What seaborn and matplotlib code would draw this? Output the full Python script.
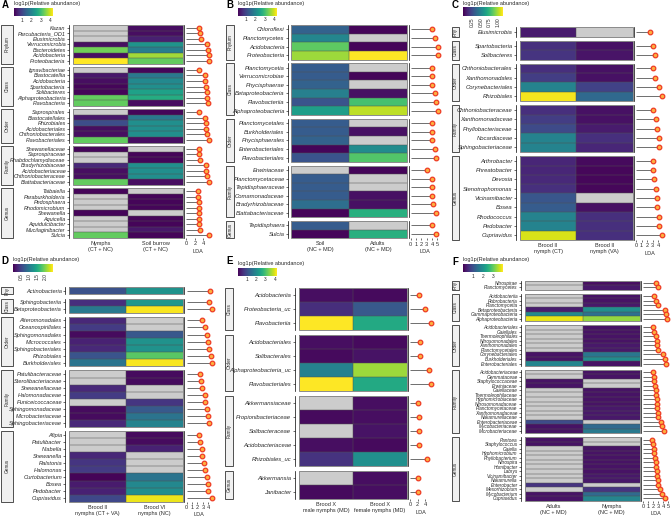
import numpy as np
import pandas as pd
import matplotlib
matplotlib.use("Agg")
import matplotlib.pyplot as plt
import seaborn as sns
from matplotlib.patches import Rectangle
from matplotlib.cm import ScalarMappable
from matplotlib.colors import Normalize

N = np.nan

# ---------------- Panel A ----------------
A_groups = ["Nymphs\n(CT + NC)", "Soil burrow\n(CT + NC)"]
A_ranks = ["Phylum"] * 7 + ["Class"] * 7 + ["Order"] * 6 + ["Family"] * 7 + ["Genus"] * 9
A_taxa = ["Kazan", "Parcubacteria_OD1", "Elusimicrobia", "Verrucomicrobia", "Bacteroidetes", "Acidobacteria", "Proteobacteria",
          "Ignavibacteriae", "Blastocatellia", "Acidobacteria", "Spartobacteria", "Solibacteres", "Alphaproteobacteria", "Flavobacteria",
          "Saprospirales", "Blastocatellales", "Rhizobiales", "Acidobacteriales", "Chthoniobacterales", "Flavobacteriales",
          "Shewanellaceae", "Saprospiraceae", "Rhabdochlamydiaceae", "Bradyrhizobiaceae", "Acidobacteriaceae", "Chthoniobacteraceae", "Blattabacteriaceae",
          "Taibaiella", "Paraburkholderia", "Pedosphaera", "Rhodomicrobium", "Shewanella", "Aquicella", "Aquidulcibacter", "Mucilaginibacter", "Sulcia"]
A_col1 = [N, N, N, 0.3, 3.4, 0.3, 4.3, N, 0.4, 0.3, 0.2, 0.2, 3.3, 3.3, N, 0.4, 1.1, 0.3, 0.3, 3.3,
          0.2, N, N, 0.6, 0.3, 0.3, 3.3, 0.2, N, N, N, 0.2, N, N, N, 3.3]
A_col2 = [0.3, 0.3, 0.5, 2.3, 1.9, 3.7, 3.3, 0.2, 1.8, 2.1, 2.2, 2.5, 2.7, 0.3, 0.2, 1.8, 2.2, 2.2, 2.2, 0.3,
          N, 0.2, 0.2, 2.2, 2.2, 2.2, 0.3, N, 0.2, 0.2, 0.2, N, 0.2, 0.2, 0.4, 0.2]
A_lda = [3.0, 3.2, 3.6, 4.9, 5.2, 5.3, 5.4, 3.1, 4.4, 4.5, 4.7, 4.8, 5.0, 5.2, 3.0, 4.4, 4.7, 4.7, 4.8, 5.3,
         3.0, 3.0, 3.2, 4.6, 4.7, 4.8, 5.3, 2.7, 2.8, 2.9, 2.9, 2.9, 3.0, 3.1, 3.3, 5.3]

# ---------------- Panel B ----------------
B_groups = ["Soil\n(NC + MD)", "Adults\n(NC + MD)"]
B_ranks = ["Phylum"] * 4 + ["Class"] * 6 + ["Order"] * 5 + ["Family"] * 6 + ["Genus"] * 2
B_taxa = ["Chloroflexi", "Planctomycetes", "Acidobacteria", "Proteobacteria",
          "Planctomycetia", "Verrucomicrobiae", "Phycisphaerae", "Betaproteobacteria", "Flavobacteriia", "Alphaproteobacteria",
          "Planctomycetales", "Burkholderiales", "Phycisphaerales", "Enterobacteriales", "Flavobacteriales",
          "Erwiniaceae", "Planctomycetaceae", "Tepidisphaeraceae", "Comamonadaceae", "Bradyrhizobiaceae", "Blattabacteriaceae",
          "Tepidisphaera", "Sulcia"]
B_col1 = [1.4, 2.0, 3.2, 3.6, 1.3, 1.3, 1.4, 1.9, 1.2, 2.4, 1.3, 1.3, 1.4, 0.2, 1.2, N, 1.3, 1.3, 1.3, 1.6, 0.2, 1.3, 0.2]
B_col2 = [0.2, N, 0.2, 4.2, N, 0.2, N, 0.3, 3.0, 3.8, N, 0.3, N, 2.1, 3.1, 0.2, N, N, 0.3, 0.3, 2.7, N, 2.7]
B_lda = [4.05, 4.55, 5.05, 5.2, 4.05, 4.05, 4.05, 4.55, 4.7, 5.05, 4.05, 4.05, 4.05, 4.55, 4.85,
         3.1, 4.05, 4.05, 4.05, 4.2, 4.7, 3.95, 4.7]

# ---------------- Panel C ----------------
C_groups = ["Brood II\nnymph (CT)", "Brood II\nnymph (VA)"]
C_ranks = ["Phy"] * 1 + ["Class"] * 2 + ["Order"] * 4 + ["Family"] * 5 + ["Genus"] * 9
C_taxa = ["Elusimicrobia", "Spartobacteria", "Solibacteres",
          "Chthoniobacterales", "Xanthomonadales", "Corynebacteriales", "Rhizobiales",
          "Chthoniobacteraceae", "Xanthomonadaceae", "Phyllobacteriaceae", "Nocardiaceae", "Sphingobacteriaceae",
          "Arthrobacter", "Phreatobacter", "Devosia", "Stenotrophomonas", "Vicinamibacter", "Bosea", "Rhodococcus", "Pedobacter", "Cupriavidus"]
C_col1 = [0.08, 0.15, 0.17, 0.15, 0.2, 0.5, 1.1, 0.15, 0.2, 0.25, 0.5, 0.5, 0.12, 0.12, 0.13, 0.15, 0.3, 0.32, 0.5, 0.5, 1.05]
C_col2 = [N, 0.05, 0.06, 0.05, 0.05, 0.22, 0.38, 0.05, 0.05, 0.08, 0.15, 0.12, 0.03, 0.02, 0.02, 0.02, N, 0.05, 0.15, 0.15, 0.15]
C_lda = [2.5, 3.1, 3.4, 3.1, 3.4, 4.1, 4.6, 3.1, 3.5, 3.7, 4.1, 4.1, 3.0, 3.1, 3.2, 3.5, 3.8, 3.8, 4.1, 4.1, 4.6]

# ---------------- Panel D ----------------
D_groups = ["Brood II\nnymphs (CT + VA)", "Brood VI\nnymphs (NC)"]
D_ranks = ["Phy"] * 1 + ["Class"] * 2 + ["Order"] * 7 + ["Family"] * 8 + ["Genus"] * 10
D_taxa = ["Actinobacteria", "Sphingobacteriia", "Betaproteobacteria",
          "Alteromonadales", "Oceanospirillales", "Sphingomonadales", "Micrococcales", "Sphingobacteriales", "Rhizobiales", "Burkholderiales",
          "Patulibacteraceae", "Sterolibacteriaceae", "Shewanellaceae", "Halomonadaceae", "Puniceicoccaceae", "Sphingomonadaceae", "Microbacteriaceae", "Sphingobacteriaceae",
          "Afipia", "Patulibacter", "Niabella", "Shewanella", "Ralstonia", "Halomonas", "Curtobacterium", "Bosea", "Pedobacter", "Cupriavidus"]
D_col1 = [0.63, 0.35, 1.0, 0.3, 0.45, 0.1, 0.25, 0.3, 0.65, 0.95, N, N, 0.3, 0.45, N, 0.1, 0.1, 0.3,
          N, N, N, 0.3, 0.4, 0.45, 0.05, 0.2, 0.25, 0.55]
D_col2 = [1.25, 1.3, 2.4, N, N, 0.68, 1.25, 1.25, 1.8, 2.4, 0.1, 0.1, N, N, 0.4, 0.7, 0.95, 1.1,
          0.1, 0.1, 0.25, N, N, N, 0.95, 1.15, 1.2, 2.35]
D_lda = [4.25, 4.1, 4.8, 2.9, 3.4, 3.75, 4.0, 4.1, 4.45, 4.8, 2.4, 2.7, 2.9, 3.4, 3.4, 3.7, 3.9, 4.1,
         2.25, 2.4, 2.9, 2.9, 3.3, 3.4, 3.85, 4.0, 4.0, 4.75]

# ---------------- Panel E ----------------
E_groups = ["Brood X\nmale nymphs (MD)", "Brood X\nfemale nymphs (MD)"]
E_ranks = ["Class"] * 3 + ["Order"] * 4 + ["Family"] * 5 + ["Genus"] * 2
E_taxa = ["Acidobacteriia", "Proteobacteria_uc", "Flavobacteriia",
          "Acidobacteriales", "Solibacterales", "Alphaproteobacteria_uc", "Flavobacteriales",
          "Akkermansiaceae", "Propionibacteriaceae", "Solibacteraceae", "Acidobacteriaceae", "Rhizobiales_uc",
          "Akkermansia", "Janibacter"]
E_col1 = [0.2, 0.6, 4.2, 0.2, 0.15, 1.85, 4.2, N, 0.15, N, 0.2, 0.65, N, 0.15]
E_col2 = [0.15, 1.2, 2.55, 0.15, 0.25, 3.6, 2.55, 0.2, 0.2, 0.25, 0.15, 2.1, 0.2, 0.2]
E_lda = [2.45, 3.9, 5.5, 2.6, 2.6, 5.1, 5.45, 2.2, 2.3, 2.4, 2.4, 4.35, 2.2, 2.2]

# ---------------- Panel F ----------------
F_groups = ["Adults\n(NC + MD)", "Nymphs\n(NC + MD)"]
F_ranks = ["Phy"] * 2 + ["Class"] * 6 + ["Order"] * 9 + ["Family"] * 14 + ["Genus"] * 14
F_taxa = ["Nitrospirae", "Planctomycetes",
          "Acidobacteriia", "Rubrobacteria", "Planctomycetia", "Betaproteobacteria", "Gammaproteobacteria", "Alphaproteobacteria",
          "Acidobacteriales", "Gaiellales", "Thermoleophilales", "Nitrosomonadales", "Xanthomonadales", "Planctomycetales",
          "Corynebacteriales", "Burkholderiales", "Enterobacteriales",
          "Acidobacteriaceae", "Gemmataceae", "Staphylococcaceae", "Erwiniaceae", "Gaiellaceae", "Thermoleophilaceae",
          "Hyphomicrobiaceae", "Nitrosomonadaceae", "Planctomycetaceae", "Xanthomonadaceae", "Nakamurellaceae",
          "Enterobacteriaceae", "Mycobacteriaceae", "Microbacteriaceae",
          "Pantoea", "Staphylococcus", "Gaiella", "Hyphomicrobium", "Phyllobacterium", "Nitrospira", "Humibacter",
          "Labrys", "Vicinamibacter", "Nakamurella", "Enterobacter", "Mesorhizobium", "Mycobacterium", "Cupriavidus"]
F_col1 = [N, N, N, N, N, 0.3, 1.85, 3.8, N, N, N, N, N, N, 0.2, 0.2, 1.8,
          N, N, 0.2, 0.2, N, N, N, N, N, N, N, 0.9, 0.2, 0.2,
          0.2, 0.2, N, N, N, N, N, N, N, N, 0.6, N, 0.2, 0.2]
F_col2 = [0.15, 0.25, 0.2, 0.2, 0.25, 1.95, 1.45, 3.3, 0.2, 0.2, 0.2, 0.2, 0.25, 0.25, 1.55, 1.9, 0.2,
          0.2, 0.2, N, N, 0.2, 0.2, 0.2, 0.2, 0.25, 0.25, 0.25, N, 1.35, 1.6,
          N, N, 0.2, 0.2, 0.2, 0.2, 0.2, 0.2, 0.25, 0.25, N, 0.6, 1.35, 1.8]
F_lda = [2.5, 3.0, 2.15, 2.5, 3.0, 4.35, 4.55, 4.8, 2.0, 2.2, 2.5, 2.7, 2.8, 2.9, 3.9, 4.3, 4.5,
         2.0, 2.1, 2.2, 2.3, 2.5, 2.5, 2.7, 2.7, 2.8, 2.9, 3.0, 3.6, 3.8, 4.2,
         1.8, 2.0, 2.1, 2.2, 2.3, 2.5, 2.5, 2.7, 2.7, 2.9, 3.0, 3.3, 3.7, 4.3]

# ---------------- figure ----------------
W, H = 671, 517
sns.set_theme(style="white")
plt.rcParams["font.family"] = ["Liberation Sans", "DejaVu Sans"]

fig = plt.figure(figsize=(W / 100, H / 100), dpi=100)
ov = fig.add_axes([0, 0, 1, 1])
ov.set_xlim(0, W)
ov.set_ylim(H, 0)
ov.axis("off")

TXT = "#2b2b2b"


def rect(x0, y0, x1, y1):
    return [x0 / W, 1 - y1 / H, (x1 - x0) / W, (y1 - y0) / H]


def draw_panel(letter, taxa, ranks, col1, col2, lda, groups, L):
    df = pd.DataFrame({"taxon": taxa, "rank": ranks, "g1": col1, "g2": col2, "LDA": lda})
    order = list(dict.fromkeys(ranks))
    n = len(taxa)
    rh = (L["bot"] - L["top"] - L["gap"] * (len(order) - 1)) / n
    y = L["top"]
    for k, r in enumerate(order):
        sub = df[df["rank"] == r].reset_index(drop=True)
        m = len(sub)
        y0, y1 = y, y + m * rh
        last = k == len(order) - 1
        # ---- heatmap ----
        ax = fig.add_axes(rect(L["hx0"], y0, L["hx1"], y1))
        mat = sub.set_index("taxon")[["g1", "g2"]]
        sns.heatmap(mat, ax=ax, cmap="viridis", vmin=L["vmin"], vmax=L["vmax"], cbar=False,
                    xticklabels=False, yticklabels=True, linewidths=0)
        ax.set_facecolor("#CCCCCC")
        ax.hlines(np.arange(1, m), 0, 2, color="#505050", lw=0.35)
        ax.vlines(1, 0, m, color="#505050", lw=0.35)
        ax.set_xlabel("")
        ax.set_ylabel("")
        # spine position first (it resets the ticks), then ticks/labels
        ax.spines["left"].set_visible(True)
        ax.spines["left"].set_position(("outward", L["axgap"] * 0.72))
        ax.spines["left"].set_color("black")
        ax.spines["left"].set_linewidth(0.5)
        ax.tick_params(axis="y", left=True, length=1.6, width=0.4, pad=0.8, color="black",
                       labelsize=L["fs"], labelcolor=TXT)
        ax.set_yticks(np.arange(m) + 0.5)
        ax.set_yticklabels(sub["taxon"], fontsize=L["fs"], style="italic", color=TXT, rotation=0)
        ax.add_patch(Rectangle((0, 0), 1, 1, transform=ax.transAxes, fill=False,
                               ec="#8a8a8a", lw=0.7, clip_on=False, zorder=5))
        if last:
            ax.tick_params(axis="x", bottom=True, length=0, pad=2.2, labelsize=L["xfs"])
            ax.set_xticks([0.5, 1.5])
            ax.set_xticklabels(groups, fontsize=L["xfs"], color=TXT, rotation=0, linespacing=1.25)
        else:
            ax.set_xticks([])
        # ---- LDA lollipop ----
        lx = fig.add_axes(rect(L["lx0"], y0, L["lx1"], y1))
        yy = np.arange(m) + 0.5
        lx.hlines(yy, 0, sub["LDA"], color="#6e6e6e", lw=0.7, zorder=1)
        sns.scatterplot(x=sub["LDA"].values, y=yy, ax=lx, s=11, color="#FDB03F", edgecolor="#EE3B24",
                        linewidth=0.9, zorder=3, legend=False, clip_on=False)
        lx.set_xlim(L["lmin"], L["lmax"])
        lx.set_ylim(m, 0)
        lx.patch.set_alpha(0)
        for s in ["top", "right", "bottom"]:
            lx.spines[s].set_visible(False)
        lx.spines["left"].set_color("black")
        lx.spines["left"].set_linewidth(0.5)
        lx.set_yticks([])
        lx.set_ylabel("")
        if last:
            lx.tick_params(axis="x", bottom=True, length=1.5, width=0.4, pad=1, color="black",
                           labelsize=L["xfs"], labelcolor=TXT)
            lx.set_xticks(L["lticks"])
            lx.set_xticklabels([str(t) for t in L["lticks"]], fontsize=L["xfs"], color=TXT)
            lx.set_xlabel("LDA", fontsize=L["xfs"], color=TXT, labelpad=1.5)
        else:
            lx.set_xticks([])
        # ---- strip ----
        ov.add_patch(Rectangle((L["sx0"], y0), L["sx1"] - L["sx0"], y1 - y0, fc="#F0F0F0", ec="#333333", lw=0.6))
        ov.text((L["sx0"] + L["sx1"]) / 2, (y0 + y1) / 2, r, rotation=90, ha="center", va="center",
                fontsize=3.4, color=TXT)
        y = y1 + L["gap"]
    # ---- colorbar ----
    cax = fig.add_axes(rect(L["cx0"], L["cy0"], L["cx1"], L["cy1"]))
    sm = ScalarMappable(norm=Normalize(L["vmin"], L["vmax"]), cmap="viridis")
    cb = fig.colorbar(sm, cax=cax, orientation="horizontal")
    cb.outline.set_visible(False)
    cb.ax.tick_params(axis="x", length=1.8, width=0.4, direction="in", color="white",
                      labelsize=3.5, labelcolor=TXT, pad=1.2, labelrotation=L["crot"])
    cb.set_ticks(L["cticks"])
    cb.set_ticklabels(L["ctl"])
    ov.text(L["cx0"], L["ty"], "log1p(Relative abundance)", fontsize=4.0, color=TXT, va="center", ha="left")
    ov.text(L["lx"], L["ly"], letter, fontsize=7, fontweight="bold", color="black", va="center", ha="left")


LA = dict(top=25, bot=238, gap=3.6, hx0=73, hx1=183, axgap=4, lx0=184, lx1=212, lmin=-0.55, lmax=6.1,
          lticks=[0, 2, 4], sx0=1, sx1=13, fs=4.0, xfs=4.0, vmin=0.14, vmax=4.3,
          cx0=14, cx1=53, cy0=8.3, cy1=16, cticks=[1, 2, 3, 4], ctl=["1", "2", "3", "4"], crot=0,
          ty=3.5, lx=1.5, ly=5)
LB = dict(top=25, bot=238.3, gap=3.7, hx0=291, hx1=407, axgap=3, lx0=409, lx1=441, lmin=-0.32, lmax=5.7,
          lticks=[0, 1, 2, 3, 4, 5], sx0=225.7, sx1=234, fs=4.2, xfs=4.0, vmin=0.14, vmax=4.2,
          cx0=237.7, cx1=276.7, cy0=8, cy1=15.7, cticks=[1, 2, 3, 4], ctl=["1", "2", "3", "4"], crot=0,
          ty=3.5, lx=226, ly=5)
LC = dict(top=27.3, bot=240, gap=4.3, hx0=520, hx1=632.7, axgap=4, lx0=634.3, lx1=665, lmin=-0.3, lmax=5.2,
          lticks=[0, 1, 2, 3, 4], sx0=451.7, sx1=459, fs=4.2, xfs=4.0, vmin=0.0, vmax=1.12,
          cx0=463.3, cx1=502.7, cy0=7.3, cy1=15.7, cticks=[0.25, 0.5, 0.75, 1.0],
          ctl=["0.25", "0.50", "0.75", "1.00"], crot=90, ty=3.5, lx=452, ly=5)
LD = dict(top=287.3, bot=501.7, gap=4.2, hx0=69.3, hx1=182.7, axgap=4, lx0=184.3, lx1=213, lmin=-0.45, lmax=4.9,
          lticks=[0, 1, 2, 3, 4], sx0=1, sx1=13, fs=4.1, xfs=4.0, vmin=0.03, vmax=2.42,
          cx0=13.3, cx1=52.7, cy0=264.3, cy1=271.7, cticks=[0.5, 1.0, 1.5, 2.0],
          ctl=["0.5", "1.0", "1.5", "2.0"], crot=90, ty=259.5, lx=1.5, ly=261)
LE = dict(top=287.7, bot=499, gap=5.3, hx0=299, hx1=406.7, axgap=4.5, lx0=408.3, lx1=434, lmin=-0.44, lmax=6.3,
          lticks=[0, 2, 4], sx0=225, sx1=233, fs=4.2, xfs=4.0, vmin=0.05, vmax=4.2,
          cx0=237.7, cx1=276.7, cy0=267.7, cy1=275.7, cticks=[1, 2, 3, 4], ctl=["1", "2", "3", "4"], crot=0,
          ty=263.3, lx=226, ly=261)
LF = dict(top=280.7, bot=500.7, gap=4, hx0=525, hx1=640, axgap=4, lx0=641, lx1=670, lmin=-0.46, lmax=5.34,
          lticks=[0, 1, 2, 3, 4, 5], sx0=451.7, sx1=459, fs=3.4, xfs=4.0, vmin=0.0, vmax=3.94,
          cx0=463.3, cx1=502.7, cy0=264.3, cy1=272.3, cticks=[1, 2, 3], ctl=["1", "2", "3"], crot=0,
          ty=259.7, lx=452, ly=262)

draw_panel("A", A_taxa, A_ranks, A_col1, A_col2, A_lda, A_groups, LA)
draw_panel("B", B_taxa, B_ranks, B_col1, B_col2, B_lda, B_groups, LB)
draw_panel("C", C_taxa, C_ranks, C_col1, C_col2, C_lda, C_groups, LC)
draw_panel("D", D_taxa, D_ranks, D_col1, D_col2, D_lda, D_groups, LD)
draw_panel("E", E_taxa, E_ranks, E_col1, E_col2, E_lda, E_groups, LE)
draw_panel("F", F_taxa, F_ranks, F_col1, F_col2, F_lda, F_groups, LF)

fig.savefig("out.png", dpi=100)
